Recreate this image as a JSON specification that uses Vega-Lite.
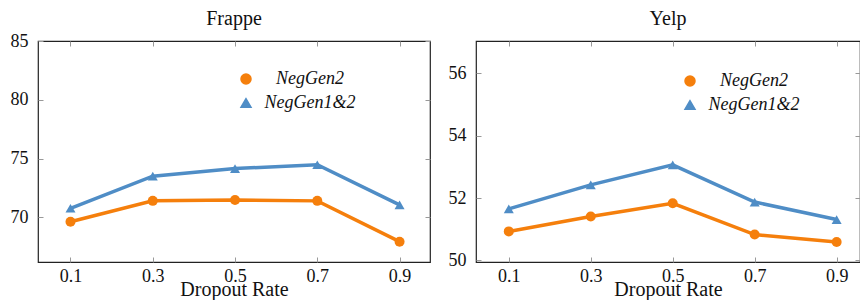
{
  "$schema": "https://vega.github.io/schema/vega-lite/v6.json",
  "padding": {"left": 9, "top": 7, "right": 0, "bottom": 0},
  "spacing": 15,
  "config": {
    "font": "Liberation Serif",
    "view": {"stroke": "#222", "strokeWidth": 1.2},
    "axis": {
      "domain": false,
      "grid": false,
      "tickColor": "#999",
      "tickSize": -5,
      "labelFont": "Liberation Serif",
      "titleFont": "Liberation Serif",
      "labelFontSize": 18,
      "labelColor": "#111",
      "titleFontSize": 20,
      "titleFontWeight": "normal",
      "titleColor": "#111",
      "titlePadding": -6
    },
    "axisX": {"labelPadding": 10},
    "axisY": {"labelPadding": 15},
    "title": {"font": "Liberation Serif", "fontSize": 20, "fontWeight": "normal", "color": "#111", "offset": 12},
    "legend": {
      "orient": "none",
      "title": null,
      "labelFont": "Liberation Serif",
      "labelFontSize": 18,
      "labelFontStyle": "italic",
      "labelColor": "#111",
      "labelAlign": "center",
      "labelOffset": 55,
      "symbolSize": 100,
      "rowPadding": 6,
      "labelLimit": 200
    }
  },
  "datasets": {
    "frappe": [
      {"rate": 0.1, "method": "NegGen2", "value": 69.63},
      {"rate": 0.3, "method": "NegGen2", "value": 71.4},
      {"rate": 0.5, "method": "NegGen2", "value": 71.48},
      {"rate": 0.7, "method": "NegGen2", "value": 71.4},
      {"rate": 0.9, "method": "NegGen2", "value": 67.93},
      {"rate": 0.1, "method": "NegGen1&2", "value": 70.77},
      {"rate": 0.3, "method": "NegGen1&2", "value": 73.5},
      {"rate": 0.5, "method": "NegGen1&2", "value": 74.15},
      {"rate": 0.7, "method": "NegGen1&2", "value": 74.47},
      {"rate": 0.9, "method": "NegGen1&2", "value": 71.06}
    ],
    "yelp": [
      {"rate": 0.1, "method": "NegGen2", "value": 50.93},
      {"rate": 0.3, "method": "NegGen2", "value": 51.41},
      {"rate": 0.5, "method": "NegGen2", "value": 51.83},
      {"rate": 0.7, "method": "NegGen2", "value": 50.83},
      {"rate": 0.9, "method": "NegGen2", "value": 50.59},
      {"rate": 0.1, "method": "NegGen1&2", "value": 51.65},
      {"rate": 0.3, "method": "NegGen1&2", "value": 52.42},
      {"rate": 0.5, "method": "NegGen1&2", "value": 53.06},
      {"rate": 0.7, "method": "NegGen1&2", "value": 51.87},
      {"rate": 0.9, "method": "NegGen1&2", "value": 51.31}
    ]
  },
  "hconcat": [
    {
      "width": 392,
      "height": 221,
      "title": {"text": "Frappe", "offset": 3},
      "data": {"name": "frappe"},
      "layer": [
        {
          "mark": {"type": "line", "strokeWidth": 3.5},
          "encoding": {
            "x": {"field": "rate", "type": "quantitative", "scale": {"domain": [0.021, 0.974], "nice": false, "zero": false}, "axis": {"values": [0.1, 0.3, 0.5, 0.7, 0.9], "format": ".1f", "title": "Dropout Rate"}},
            "y": {"field": "value", "type": "quantitative", "scale": {"domain": [66.2, 85], "nice": false, "zero": false}, "axis": {"values": [70, 75, 80, 85], "title": null}},
            "color": {"field": "method", "type": "nominal", "scale": {"domain": ["NegGen2", "NegGen1&2"], "range": ["#f57f0c", "#4f8dc6"]}, "legend": {"legendX": 199, "legendY": 29}}
          }
        },
        {
          "mark": {"type": "point", "filled": true, "opacity": 1, "size": 100},
          "encoding": {
            "x": {"field": "rate", "type": "quantitative", "axis": {"orient": "top", "values": [0.1, 0.3, 0.5, 0.7, 0.9], "labels": false, "title": null}},
            "y": {"field": "value", "type": "quantitative", "axis": {"orient": "right", "values": [70, 75, 80, 85], "labels": false, "title": null}},
            "color": {"field": "method", "type": "nominal", "legend": {"legendX": 199, "legendY": 29}},
            "shape": {"field": "method", "type": "nominal", "scale": {"domain": ["NegGen2", "NegGen1&2"], "range": ["circle", "triangle-up"]}, "legend": {"legendX": 199, "legendY": 29}}
          }
        }
      ],
      "resolve": {"axis": {"x": "independent", "y": "independent"}}
    },
    {
      "width": 384,
      "height": 221,
      "title": {"text": "Yelp", "offset": 12},
      "data": {"name": "yelp"},
      "layer": [
        {
          "mark": {"type": "line", "strokeWidth": 3.5},
          "encoding": {
            "x": {"field": "rate", "type": "quantitative", "scale": {"domain": [0.02, 0.957], "nice": false, "zero": false}, "axis": {"values": [0.1, 0.3, 0.5, 0.7, 0.9], "format": ".1f", "title": "Dropout Rate"}},
            "y": {"field": "value", "type": "quantitative", "scale": {"domain": [49.95, 57.03], "nice": false, "zero": false}, "axis": {"values": [50, 52, 54, 56], "title": null}},
            "color": {"field": "method", "type": "nominal", "scale": {"domain": ["NegGen2", "NegGen1&2"], "range": ["#f57f0c", "#4f8dc6"]}, "legend": {"legendX": 205, "legendY": 31}}
          }
        },
        {
          "mark": {"type": "point", "filled": true, "opacity": 1, "size": 100},
          "encoding": {
            "x": {"field": "rate", "type": "quantitative", "axis": {"orient": "top", "values": [0.1, 0.3, 0.5, 0.7, 0.9], "labels": false, "title": null}},
            "y": {"field": "value", "type": "quantitative", "axis": {"orient": "right", "values": [50, 52, 54, 56], "labels": false, "title": null}},
            "color": {"field": "method", "type": "nominal", "legend": {"legendX": 205, "legendY": 31}},
            "shape": {"field": "method", "type": "nominal", "scale": {"domain": ["NegGen2", "NegGen1&2"], "range": ["circle", "triangle-up"]}, "legend": {"legendX": 205, "legendY": 31}}
          }
        }
      ],
      "resolve": {"axis": {"x": "independent", "y": "independent"}}
    }
  ],
  "resolve": {"scale": {"color": "independent", "shape": "independent"}, "legend": {"color": "independent", "shape": "independent"}}
}
